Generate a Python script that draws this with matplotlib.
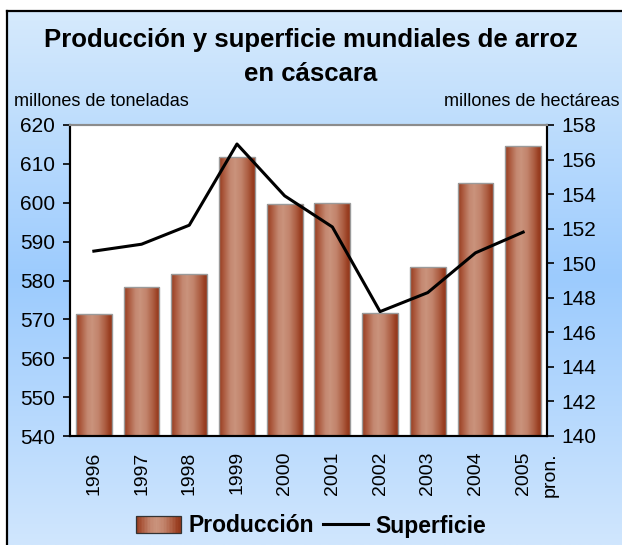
import numpy as np
import matplotlib
matplotlib.use("Agg")
import matplotlib.pyplot as plt
from matplotlib.colors import LinearSegmentedColormap
from matplotlib.patches import Rectangle
from matplotlib.lines import Line2D
from matplotlib.legend_handler import HandlerBase

# data
years = ['1996', '1997', '1998', '1999', '2000', '2001', '2002', '2003', '2004', '2005']
produccion = [571.3, 578.4, 581.7, 611.7, 599.8, 599.9, 571.6, 583.4, 605.2, 614.6]
superficie = [150.7, 151.1, 152.2, 156.9, 153.9, 152.1, 147.2, 148.3, 150.6, 151.8]

title_lines = ['Producción y superficie mundiales de arroz', 'en cáscara']
ylabel_left = 'millones de toneladas'
ylabel_right = 'millones de hectáreas'
forecast_note = 'pron.'

plt.rcParams['font.family'] = ['Liberation Sans', 'DejaVu Sans']

bar_cmap = LinearSegmentedColormap.from_list('cyl', [
    (0.0, '#943a1e'), (0.12, '#aa573b'), (0.32, '#c48871'), (0.45, '#ca937c'),
    (0.62, '#c2846c'), (0.82, '#ab5b3f'), (0.93, '#9a3f22'), (1.0, '#92381d')])
bg_cmap = LinearSegmentedColormap.from_list('bg', [
    (0.0, '#d6eafc'), (0.5, '#9ccbfe'), (1.0, '#d0e6fd')])

W, H = 622, 545
fig = plt.figure(figsize=(W / 100, H / 100), dpi=100)
fig.patch.set_facecolor('white')

# gradient background inside the frame
bx0, by1 = 7 / W, 1 - 11 / H
bg = fig.add_axes([bx0, 0, 1 - bx0, by1], zorder=-5)
grad = np.linspace(0, 1, 256).reshape(-1, 1)
bg.imshow(grad, aspect='auto', cmap=bg_cmap, extent=[0, 1, 0, 1], origin='upper')
bg.set_xlim(0, 1)
bg.set_ylim(0, 1)
bg.axis('off')
fig.add_artist(Line2D([bx0, bx0], [0, by1], color='black', lw=1.6, transform=fig.transFigure))
fig.add_artist(Line2D([bx0, 1], [by1, by1], color='black', lw=1.6, transform=fig.transFigure))

ax = fig.add_axes([70 / W, 1 - 436 / H, 477 / W, 311 / H])
ax.set_facecolor('white')
x = np.arange(len(years))

bars = ax.bar(x, [p - 540 for p in produccion], bottom=540, width=0.75,
              facecolor='none', edgecolor='#9a9a9a', linewidth=1.0, zorder=3)
hgrad = np.linspace(0, 1, 256).reshape(1, -1)
for b in bars:
    x0, y0 = b.get_x(), b.get_y()
    im = ax.imshow(hgrad, cmap=bar_cmap, aspect='auto', zorder=2,
                   extent=[x0, x0 + b.get_width(), y0, y0 + b.get_height()])
    im.set_clip_path(b)
ax.set_xlim(-0.5, len(years) - 0.5)
ax.set_ylim(540, 620)

ax2 = ax.twinx()
ax2.plot(x, superficie, color='black', lw=2.2, zorder=5)
ax2.set_ylim(140, 158)
ax2.set_yticks(np.arange(140, 159, 2))

ax.set_yticks(np.arange(540, 621, 10))
ax.set_xticks(x)
ax.set_xticklabels(years, rotation=90, fontsize=14)
ax.tick_params(axis='x', length=0, pad=11)
ax.tick_params(axis='y', labelsize=15, length=5, width=1.2, direction='out', pad=6)
ax2.tick_params(axis='y', labelsize=15, length=5, width=1.2, direction='out', pad=5)

# "pron." next to the last year label
ax.annotate(forecast_note, xy=(x[-1], 540), xycoords='data', xytext=(19.5, -11.5),
            textcoords='offset points', rotation=90, ha='center', va='top', fontsize=14,
            annotation_clip=False)

for a in (ax, ax2):
    a.spines['top'].set_color('#8c8c8c')
    a.spines['top'].set_linewidth(1.5)
    a.spines['left'].set_linewidth(1.5)
    a.spines['right'].set_linewidth(1.5)
    a.spines['bottom'].set_linewidth(1.5)

fig.text(0.5, 1 - 47 / H, title_lines[0], ha='center', va='baseline', fontsize=18.5,
         fontweight='bold')
fig.text(0.5, 1 - 81 / H, title_lines[1], ha='center', va='baseline', fontsize=18.5,
         fontweight='bold')
fig.text(14 / W, 1 - 105.5 / H, ylabel_left, ha='left', va='baseline', fontsize=13)
fig.text(620 / W, 1 - 105.5 / H, ylabel_right, ha='right', va='baseline', fontsize=13)


class GradientHandler(HandlerBase):
    def create_artists(self, legend, orig_handle, xdescent, ydescent,
                       width, height, fontsize, trans):
        n = 30
        arts = []
        for i in range(n):
            r = Rectangle((-xdescent + width * i / n, -ydescent), width / n + 0.3, height,
                          facecolor=bar_cmap((i + 0.5) / n), edgecolor='none', transform=trans)
            arts.append(r)
        arts.append(Rectangle((-xdescent, -ydescent), width, height, facecolor='none',
                              edgecolor='#333333', lw=0.9, transform=trans))
        return arts


bar_handle = Rectangle((0, 0), 1, 1)
line_handle = Line2D([], [], color='black', lw=2.2)
fig.legend([bar_handle, line_handle], ['Producción', 'Superficie'],
           handler_map={Rectangle: GradientHandler()},
           loc='center', bbox_to_anchor=(0.5, 1 - 526 / H), ncol=2, frameon=False,
           prop={'weight': 'bold', 'size': 16.5}, handlelength=1.96, handleheight=0.75,
           handletextpad=0.32, columnspacing=0.4)

fig.savefig('out.png', dpi=100)
